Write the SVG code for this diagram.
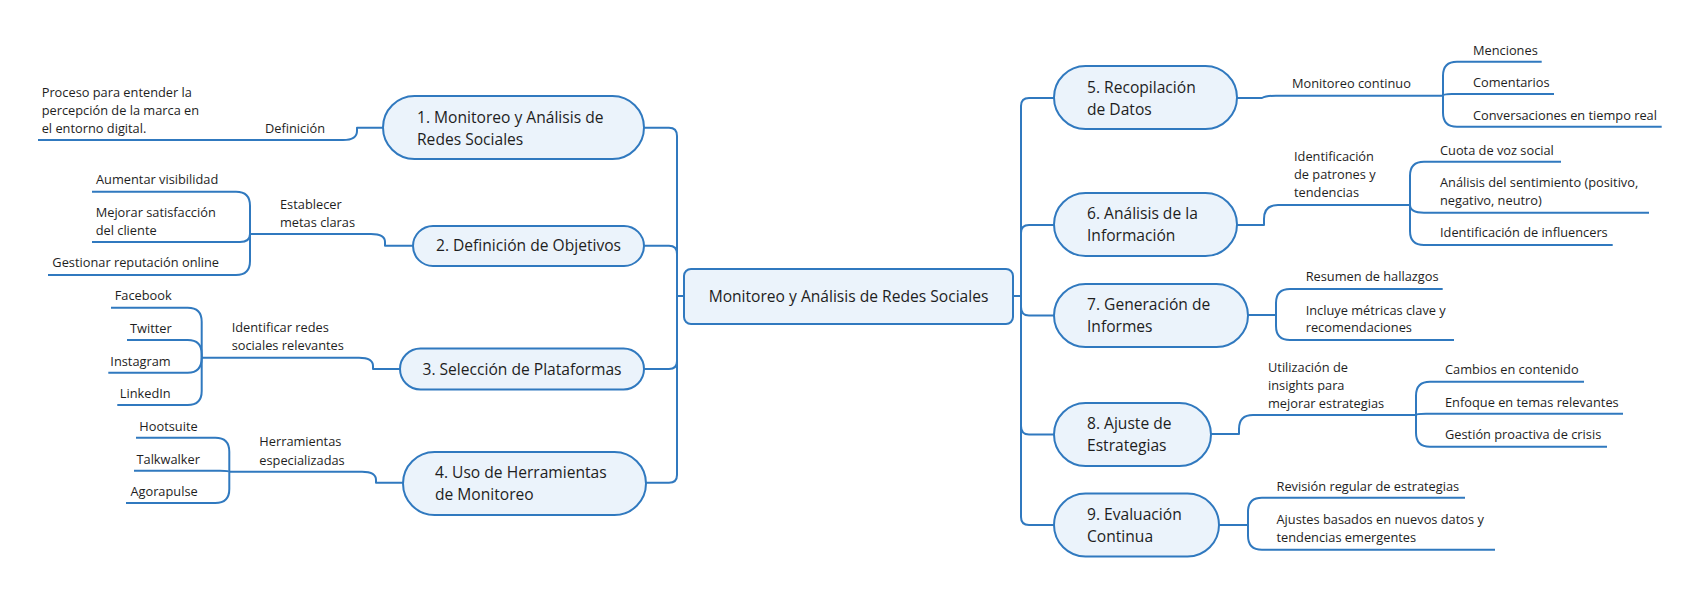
<svg xmlns="http://www.w3.org/2000/svg" width="1700" height="595" viewBox="0 0 1700 595">
<style>
.box{fill:#EBF3FB;stroke:#3079BF;stroke-width:2}
.ln{fill:none;stroke:#3079BF;stroke-width:2;stroke-linejoin:round}
.t{font-family:"Open Sans","Noto Sans",sans-serif;font-size:15.6px;fill:#1e1e1e}
.s{font-family:"Open Sans","Noto Sans",sans-serif;font-size:12.8px;fill:#1e1e1e}
.m{text-anchor:middle}
.e{text-anchor:end}
</style>
<rect width="1700" height="595" fill="#ffffff"/>
<g id="connectors">
<!-- trunks -->
<path class="ln" d="M644,127.7 H669 Q677,127.7 677,136 V296"/>
<path class="ln" d="M644,245.7 H669 Q677,245.7 677,254 V296"/>
<path class="ln" d="M644,369 H669 Q677,369 677,361 V296"/>
<path class="ln" d="M646,482.7 H669 Q677,482.7 677,475 V296"/>
<path class="ln" d="M677,296 H684"/>
<path class="ln" d="M1054,98 H1029 Q1021,98 1021,106 V296"/>
<path class="ln" d="M1054,225 H1029 Q1021,225 1021,233 V296"/>
<path class="ln" d="M1054,315.5 H1029 Q1021,315.5 1021,307 V296"/>
<path class="ln" d="M1054,434.5 H1029 Q1021,434.5 1021,426 V296"/>
<path class="ln" d="M1054,525 H1029 Q1021,525 1021,517 V296"/>
<path class="ln" d="M1013,296 H1021"/>
<!-- left branches -->
<path class="ln" d="M383,127.7 H357 V131 Q357,140 343,140 H38"/>
<path class="ln" d="M413,245.7 H385 V242 Q385,234 371,234 H250"/>
<path class="ln" d="M250,234 V205.7 Q250,191.7 236,191.7 H92"/>
<path class="ln" d="M250,234 Q250,242 240,242 H92"/>
<path class="ln" d="M250,234 V261 Q250,275 236,275 H48"/>
<path class="ln" d="M400,369 H373 V366 Q373,357.7 359,357.7 H201.7"/>
<path class="ln" d="M201.7,357.7 V321.7 Q201.7,307.7 187.7,307.7 H111"/>
<path class="ln" d="M201.7,357.7 V354 Q201.7,340 187.7,340 H127"/>
<path class="ln" d="M201.7,357.7 Q201.7,372.7 187.7,372.7 H108.3"/>
<path class="ln" d="M201.7,357.7 V391 Q201.7,405 187.7,405 H117.3"/>
<path class="ln" d="M403,482.7 H376 V480 Q376,471.7 362,471.7 H229.3"/>
<path class="ln" d="M229.3,471.7 V451.7 Q229.3,437.7 215.3,437.7 H136"/>
<path class="ln" d="M229.3,471.7 Q229.3,470.7 220,470.7 H134"/>
<path class="ln" d="M229.3,471.7 V489 Q229.3,503 215.3,503 H126"/>
<!-- right branches -->
<path class="ln" d="M1237,98 H1262 Q1266,95.7 1276,95.7 H1443"/>
<path class="ln" d="M1443,95.7 V75.7 Q1443,61.7 1457,61.7 H1541.7"/>
<path class="ln" d="M1443,95.7 Q1443,94 1452,94 H1554"/>
<path class="ln" d="M1443,95.7 V112.7 Q1443,126.7 1457,126.7 H1661.7"/>
<path class="ln" d="M1237,225 H1264 V219 Q1264,205 1278,205 H1410"/>
<path class="ln" d="M1410,205 V175.7 Q1410,161.7 1424,161.7 H1561"/>
<path class="ln" d="M1410,205 Q1410,212.7 1424,212.7 H1649"/>
<path class="ln" d="M1410,205 V231 Q1410,245 1424,245 H1612.7"/>
<path class="ln" d="M1248,315 H1276"/>
<path class="ln" d="M1276,315 V303 Q1276,289 1290,289 H1442.7"/>
<path class="ln" d="M1276,315 V326 Q1276,340 1290,340 H1454"/>
<path class="ln" d="M1211,434 H1239 V429 Q1239,415 1253,415 H1416"/>
<path class="ln" d="M1416,415 V395.7 Q1416,381.7 1430,381.7 H1584"/>
<path class="ln" d="M1416,415 Q1416,413.7 1426,413.7 H1623"/>
<path class="ln" d="M1416,415 V432.7 Q1416,446.7 1430,446.7 H1607"/>
<path class="ln" d="M1219,525 H1248"/>
<path class="ln" d="M1248,525 V511.7 Q1248,497.7 1262,497.7 H1465"/>
<path class="ln" d="M1248,525 V535.7 Q1248,549.7 1262,549.7 H1495"/>
</g>
<!-- labels on connectors -->
<g id="labels">
<text class="s" x="265" y="133">Definición</text>
<text class="s" x="280" y="209">Establecer</text>
<text class="s" x="280" y="227.3">metas claras</text>
<text class="s" x="231.7" y="332.3">Identificar redes</text>
<text class="s" x="231.7" y="350.3">sociales relevantes</text>
<text class="s" x="259.3" y="446.3">Herramientas</text>
<text class="s" x="259.3" y="464.6">especializadas</text>
<text class="s" x="1292" y="88">Monitoreo continuo</text>
<text class="s" x="1294" y="160.6">Identificación</text>
<text class="s" x="1294" y="178.9">de patrones y</text>
<text class="s" x="1294" y="196.9">tendencias</text>
<text class="s" x="1268" y="371.6">Utilización de</text>
<text class="s" x="1268" y="390.3">insights para</text>
<text class="s" x="1268" y="407.6">mejorar estrategias</text>
</g>
<g id="central">
<rect class="box" x="684" y="269" width="329" height="55" rx="7"/>
<text class="t m" x="848.5" y="302">Monitoreo y Análisis de Redes Sociales</text>
</g>
<g id="topic1">
<rect class="box" x="383" y="96" width="261" height="63" rx="31.5"/>
<text class="t" x="417" y="122.8">1. Monitoreo y Análisis de</text>
<text class="t" x="417" y="144.5">Redes Sociales</text>
</g>
<g id="topic2">
<rect class="box" x="413" y="226" width="231" height="40" rx="20"/>
<text class="t m" x="528.5" y="251.2">2. Definición de Objetivos</text>
</g>
<g id="topic3">
<rect class="box" x="400" y="348.5" width="244" height="41" rx="20.5"/>
<text class="t m" x="522" y="374.5">3. Selección de Plataformas</text>
</g>
<g id="topic4">
<rect class="box" x="403" y="452" width="243" height="63" rx="31.5"/>
<text class="t" x="435" y="478.2">4. Uso de Herramientas</text>
<text class="t" x="435" y="499.5">de Monitoreo</text>
</g>
<g id="topic5">
<rect class="box" x="1054" y="66" width="183" height="63" rx="31.5"/>
<text class="t" x="1087" y="92.8">5. Recopilación</text>
<text class="t" x="1087" y="114.5">de Datos</text>
</g>
<g id="topic6">
<rect class="box" x="1054" y="193" width="183" height="63" rx="31.5"/>
<text class="t" x="1087" y="218.8">6. Análisis de la</text>
<text class="t" x="1087" y="241.2">Información</text>
</g>
<g id="topic7">
<rect class="box" x="1054" y="284" width="194" height="63" rx="31.5"/>
<text class="t" x="1087" y="309.5">7. Generación de</text>
<text class="t" x="1087" y="331.5">Informes</text>
</g>
<g id="topic8">
<rect class="box" x="1054" y="403" width="157" height="63" rx="31.5"/>
<text class="t" x="1087" y="429.2">8. Ajuste de</text>
<text class="t" x="1087" y="451.2">Estrategias</text>
</g>
<g id="topic9">
<rect class="box" x="1054" y="493.5" width="165" height="63" rx="31.5"/>
<text class="t" x="1087" y="519.5">9. Evaluación</text>
<text class="t" x="1087" y="541.5">Continua</text>
</g>
<g id="sub1-1"><text class="s" x="41.7" y="97">Proceso para entender la</text><text class="s" x="41.7" y="115">percepción de la marca en</text><text class="s" x="41.7" y="133">el entorno digital.</text></g>
<g id="sub2-1"><text class="s e" x="218.3" y="184">Aumentar visibilidad</text></g>
<g id="sub2-2"><text class="s" x="95.7" y="217">Mejorar satisfacción</text><text class="s" x="95.7" y="235.3">del cliente</text></g>
<g id="sub2-3"><text class="s e" x="219" y="267.3">Gestionar reputación online</text></g>
<g id="sub3-1"><text class="s e" x="171.7" y="300.3">Facebook</text></g>
<g id="sub3-2"><text class="s e" x="171.7" y="333">Twitter</text></g>
<g id="sub3-3"><text class="s e" x="170.7" y="365.6">Instagram</text></g>
<g id="sub3-4"><text class="s e" x="170.7" y="398">LinkedIn</text></g>
<g id="sub4-1"><text class="s e" x="197.7" y="430.6">Hootsuite</text></g>
<g id="sub4-2"><text class="s e" x="200" y="463.6">Talkwalker</text></g>
<g id="sub4-3"><text class="s e" x="197.7" y="496.3">Agorapulse</text></g>
<g id="sub5-1"><text class="s" x="1473" y="54.6">Menciones</text></g>
<g id="sub5-2"><text class="s" x="1473" y="87.3">Comentarios</text></g>
<g id="sub5-3"><text class="s" x="1473" y="119.6">Conversaciones en tiempo real</text></g>
<g id="sub6-1"><text class="s" x="1440" y="154.6">Cuota de voz social</text></g>
<g id="sub6-2"><text class="s" x="1440" y="187.3">Análisis del sentimiento (positivo,</text><text class="s" x="1440" y="205.3">negativo, neutro)</text></g>
<g id="sub6-3"><text class="s" x="1440" y="237.3">Identificación de influencers</text></g>
<g id="sub7-1"><text class="s" x="1305.7" y="281.3">Resumen de hallazgos</text></g>
<g id="sub7-2"><text class="s" x="1305.7" y="314.6">Incluye métricas clave y</text><text class="s" x="1305.7" y="332.3">recomendaciones</text></g>
<g id="sub8-1"><text class="s" x="1445" y="373.6">Cambios en contenido</text></g>
<g id="sub8-2"><text class="s" x="1445" y="406.6">Enfoque en temas relevantes</text></g>
<g id="sub8-3"><text class="s" x="1445" y="438.6">Gestión proactiva de crisis</text></g>
<g id="sub9-1"><text class="s" x="1276.5" y="491.3">Revisión regular de estrategias</text></g>
<g id="sub9-2"><text class="s" x="1276.5" y="523.6">Ajustes basados en nuevos datos y</text><text class="s" x="1276.5" y="541.6">tendencias emergentes</text></g>
</svg>
